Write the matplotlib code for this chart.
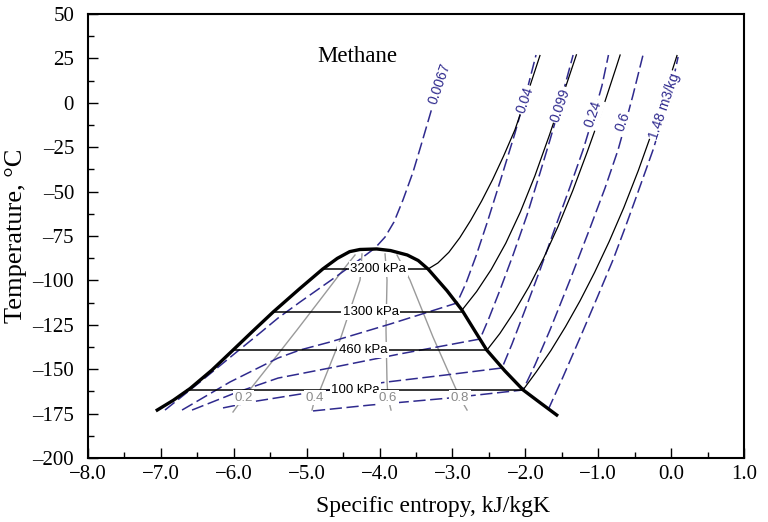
import matplotlib
matplotlib.use("Agg")
import matplotlib.pyplot as plt
from matplotlib.ticker import MultipleLocator, FuncFormatter

# ---- saturation dome (specific entropy kJ/kgK, temperature degC) ----
dome_liq_s = [-7.05, -6.83, -6.60, -6.30, -6.01, -5.74, -5.46, -5.10, -4.78, -4.58, -4.41, -4.27, -4.04]
dome_liq_T = [-173.0, -167.5, -160.9, -150.5, -139.2, -128.6, -117.8, -104.8, -93.6, -87.6, -83.8, -82.6, -82.3]
dome_vap_s = [-4.04, -3.85, -3.62, -3.47, -3.335, -3.075, -2.87, -2.70, -2.53, -2.28, -2.03, -1.80, -1.57]
dome_vap_T = [-82.3, -83.2, -85.7, -88.8, -93.6, -105.8, -116.7, -128.0, -139.2, -151.0, -161.7, -168.8, -175.8]

# ---- isobars: two-phase part ----
isobar_names = ["3200 kPa", "1300 kPa", "460 kPa", "100 kPa"]
isobar_Tsat = [-93.6, -117.8, -139.2, -161.7]
isobar_s_liq = [-4.78, -5.46, -6.01, -6.64]
isobar_s_vap = [-3.335, -2.87, -2.526, -2.032]
isobar_label_s = [-4.02, -4.12, -4.23, -4.33]

# ---- isobars: superheated vapour ----
p3200_s = [-3.335, -3.20, -3.05, -2.90, -2.75, -2.60, -2.45, -2.30, -2.142, -1.936, -1.80]
p3200_T = [-93.6, -90.2, -84.2, -76.0, -66.2, -55.3, -43.3, -30.1, -15.1, 9.6, 26.6]
p1300_s = [-2.869, -2.669, -2.469, -2.269, -2.069, -1.869, -1.669, -1.469, -1.30]
p1300_T = [-116.7, -106.3, -93.9, -79.1, -61.5, -41.1, -18.1, 6.3, 27.0]
p460_s = [-2.526, -2.35, -2.15, -1.95, -1.75, -1.55, -1.35, -1.15, -0.95, -0.75, -0.70]
p460_T = [-139.2, -129.9, -117.5, -103.5, -87.5, -69.5, -49.5, -27.5, -4.5, 20.5, 26.9]
p100_s = [-2.032, -1.85, -1.65, -1.45, -1.25, -1.05, -0.85, -0.65, -0.45, -0.25, -0.05, 0.08]
p100_T = [-161.7, -151.5, -139.5, -126.1, -111.5, -95.5, -78.1, -59.1, -38.1, -15.1, 9.9, 26.6]

# ---- isochores (m3/kg) ----
v0067_s = [-6.944, -6.463, -6.011, -5.640, -5.393, -5.092, -4.680, -4.337, -4.063,
           -3.925, -3.802, -3.679, -3.541, -3.418, -3.281]
v0067_T = [-173.0, -157.2, -142.0, -129.6, -121.2, -112.2, -100.3, -90.2, -81.8,
           -75.6, -67.1, -54.7, -39.0, -22.1, -2.9]
v004_s = [-6.710, -6.052, -5.393, -5.092, -4.680, -3.857, -2.938, -2.814, -2.677,
          -2.526, -2.348, -2.142, -1.977, -1.854]
v004_T = [-173.0, -157.2, -143.7, -139.2, -134.7, -124.6, -112.7, -101.5, -86.3,
          -67.7, -44.5, -17.0, 7.2, 26.9]
v0099_s = [-6.573, -5.983, -5.393, -4.680, -3.720, -2.622, -2.499, -2.348, -2.169,
           -1.977, -1.799, -1.662, -1.552, -1.456, -1.345]
v0099_T = [-173.0, -163.4, -155.0, -149.3, -141.4, -133.0, -121.2, -105.4, -85.7,
           -63.2, -39.5, -20.9, -5.2, 10.0, 26.9]
v024_s = [-6.148, -5.681, -4.996, -3.898, -3.102, -2.320, -2.183, -2.005, -1.799,
          -1.593, -1.388, -1.209, -1.060, -0.950, -0.860]
v024_T = [-171.8, -167.9, -163.4, -157.2, -153.3, -149.3, -135.8, -116.7, -94.1,
          -70.5, -47.4, -26.6, -6.5, 9.5, 26.9]
v06_s = [-4.913, -4.131, -3.034, -2.032, -1.868, -1.662, -1.388, -1.113, -0.907,
         -0.729, -0.633, -0.523, -0.386]
v06_T = [-173.5, -170.2, -166.2, -161.7, -147.6, -127.9, -99.8, -70.5, -48.0,
         -26.6, -12.5, 4.4, 26.9]
v148_s = [-1.689, -1.484, -1.251, -1.017, -0.798, -0.633, -0.469, -0.249, -0.110, 0.000, 0.095]
v148_T = [-173.0, -154.4, -132.4, -109.9, -88.5, -70.5, -51.9, -26.6, -8.0, 7.5, 25.8]

isochore_names = ["0.0067", "0.04", "0.099", "0.24", "0.6", "1.48 m3/kg"]
isochore_label_s = [-3.171, -2.005, -1.525, -1.072, -0.660, -0.084]
isochore_label_T = [10.6, 1.6, -1.2, -6.3, -10.8, -1.8]

# ---- vapour quality lines ----
x02_s = [-4.337, -4.502, -4.817, -5.133, -5.435, -5.750, -5.873, -6.011]
x02_T = [-85.7, -94.1, -111.0, -127.9, -143.7, -160.0, -166.2, -174.1]
x04_s = [-4.241, -4.268, -4.406, -4.543, -4.680, -4.817, -4.886, -4.927]
x04_T = [-85.1, -99.8, -116.7, -133.6, -147.6, -161.7, -166.2, -173.0]
x06_s = [-3.925, -3.898, -3.912, -3.898, -3.884, -3.843]
x06_T = [-85.1, -99.8, -127.9, -157.2, -166.2, -173.0]
x08_s = [-3.761, -3.583, -3.267, -2.965, -2.896, -2.800]
x08_T = [-85.7, -99.8, -131.9, -160.0, -166.2, -173.0]
quality_names = ["0.2", "0.4", "0.6", "0.8"]
quality_label_s = [-5.869, -4.886, -3.884, -2.896]
quality_label_T = -166.0

BLUE = "#2f2a8e"
GRAY = "#9a9a9a"
SANS = "Liberation Sans"

plt.rcParams["font.family"] = ["Liberation Serif", "DejaVu Serif"]

fig = plt.figure(figsize=(7.68, 5.22), dpi=100)
ax = fig.add_axes([0.1146, 0.1226, 0.8542, 0.8506])

dash = dict(color=BLUE, lw=1.1, dashes=(8, 3), zorder=3)

# quality lines
for qs, qT in [(x02_s, x02_T), (x04_s, x04_T), (x06_s, x06_T), (x08_s, x08_T)]:
    ax.plot(qs, qT, color=GRAY, lw=1.0, zorder=2)

# isochores
for vs, vT in [(v0067_s, v0067_T), (v004_s, v004_T), (v0099_s, v0099_T),
               (v024_s, v024_T), (v06_s, v06_T), (v148_s, v148_T)]:
    ax.plot(vs, vT, **dash)

# isobars
for T, sl, sv in zip(isobar_Tsat, isobar_s_liq, isobar_s_vap):
    ax.plot([sl, sv], [T, T], color="black", lw=1.1, zorder=4)
for ps, pT in [(p3200_s, p3200_T), (p1300_s, p1300_T), (p460_s, p460_T), (p100_s, p100_T)]:
    ax.plot(ps, pT, color="black", lw=0.9, zorder=4)

# saturation dome
ax.plot(dome_liq_s + dome_vap_s[1:], dome_liq_T + dome_vap_T[1:],
        color="black", lw=2.4, zorder=5, solid_joinstyle="round")

box = dict(boxstyle="square,pad=0.12", fc="white", ec="none")
for name, s, T in zip(isobar_names, isobar_label_s, isobar_Tsat):
    ax.text(s, T, name, family=SANS, fontsize=9.5, ha="center", va="center",
            bbox=box, zorder=6)
for name, s in zip(quality_names, quality_label_s):
    ax.text(s, quality_label_T, name, family=SANS, fontsize=9.5, color="#8a8a8a",
            ha="center", va="center", bbox=box, zorder=6)
for name, s, T in zip(isochore_names, isochore_label_s, isochore_label_T):
    ax.text(s, T, name, family=SANS, fontsize=10, color=BLUE, rotation=71,
            ha="center", va="center", bbox=box, zorder=6, rotation_mode="anchor")

ax.text(-4.31, 25.8, "Methane", fontsize=16.5, ha="center", va="center")

ax.set_xlim(-8.0, 1.0)
ax.set_ylim(-200, 50)
ax.xaxis.set_major_locator(MultipleLocator(1.0))
ax.xaxis.set_minor_locator(MultipleLocator(0.5))
ax.yaxis.set_major_locator(MultipleLocator(25))
ax.yaxis.set_minor_locator(MultipleLocator(12.5))
ax.xaxis.set_major_formatter(FuncFormatter(lambda v, p: f"{v:.1f}".replace("-", "\u2212")))
ax.yaxis.set_major_formatter(FuncFormatter(lambda v, p: f"{v:.0f}".replace("-", "\u2013")))
ax.tick_params(which="both", direction="in", top=False, right=False, labelsize=15, width=1.0)
ax.tick_params(which="major", length=7)
ax.tick_params(which="minor", length=4)
ax.tick_params(axis="y", which="major", pad=10)
ax.tick_params(axis="x", which="major", pad=5)
for sp in ax.spines.values():
    sp.set_linewidth(1.5)

ax.set_xlabel("Specific entropy, kJ/kgK", fontsize=17)
ax.set_ylabel("Temperature, \u00b0C", fontsize=19)
ax.xaxis.set_label_coords(0.526, -0.085)
ax.yaxis.set_label_coords(-0.093, 0.5)

fig.savefig("out.png", dpi=100)
